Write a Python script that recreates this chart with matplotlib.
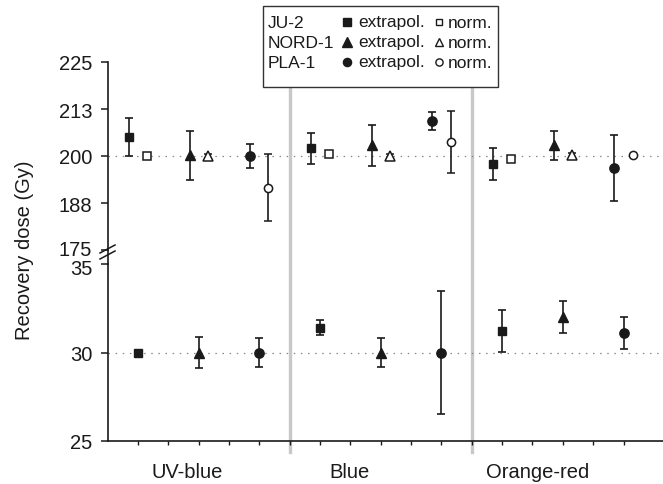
import matplotlib
matplotlib.use("Agg")
import matplotlib.pyplot as plt
from matplotlib.lines import Line2D
from matplotlib.patches import Rectangle
from matplotlib.transforms import blended_transform_factory, ScaledTranslation

plt.rcParams['font.family'] = ['Liberation Sans', 'DejaVu Sans']

categories = ['UV-blue', 'Blue', 'Orange-red']
samples = ['JU-2', 'NORD-1', 'PLA-1']

# 200 Gy given dose, per sample: values for UV-blue, Blue, Orange-red
ext_200 = {'JU-2': [205.0, 202.1, 197.9],
           'NORD-1': [200.2, 202.8, 202.8],
           'PLA-1': [200.0, 209.3, 196.8]}
ext_200_err = {'JU-2': [5.0, 4.1, 4.2],
               'NORD-1': [6.5, 5.5, 3.8],
               'PLA-1': [3.3, 2.4, 8.7]}
norm_200 = {'JU-2': [200.0, 200.4, 199.2],
            'NORD-1': [200.0, 199.9, 200.2],
            'PLA-1': [191.6, 203.7, 200.3]}
norm_200_err = {'JU-2': [0.5, 0.5, 0.6],
                'NORD-1': [0.6, 0.7, 0.7],
                'PLA-1': [9.0, 8.2, 0.0]}

# 30 Gy given dose, extrapolated only
ext_30 = {'JU-2': [30.0, 31.41, 31.22],
          'NORD-1': [30.0, 30.0, 32.01],
          'PLA-1': [30.0, 30.0, 31.09]}
ext_30_err = {'JU-2': [0.0, 0.4, 1.2],
              'NORD-1': [0.88, 0.8, 0.9],
              'PLA-1': [0.8, 3.5, 0.9]}

top_ticks = [175, 187.5, 200, 212.5, 225]
top_ticklabels = ['175', '188', '200', '213', '225']
bot_ticks = [25, 30, 35]

markers = {'JU-2': 's', 'NORD-1': '^', 'PLA-1': 'o'}
msize = {'JU-2': 6, 'NORD-1': 7.5, 'PLA-1': 6.7}
dark = '#1a1a1a'
fs = 14.5

W, H = 663, 485
fig = plt.figure(figsize=(W / 100, H / 100), dpi=100)
x0 = 107.6 / W
ax_top = fig.add_axes([x0, 1 - 251 / H, 1 - x0, (251 - 63) / H])
ax_bot = fig.add_axes([x0, 1 - 442 / H, 1 - x0, (442 - 265) / H])


def xpos(k, j):
    return 1 + 6 * k + 2 * j


eb = dict(ecolor=dark, elinewidth=1.2, capsize=3.2, capthick=1.2, linestyle='none')
for j, s in enumerate(samples):
    for k in range(len(categories)):
        x = xpos(k, j)
        ax_top.errorbar(x - 0.3, ext_200[s][k], yerr=ext_200_err[s][k],
                        marker=markers[s], ms=msize[s], mfc=dark, mec=dark,
                        zorder=3, **eb)
        ax_top.errorbar(x + 0.3, norm_200[s][k], yerr=norm_200_err[s][k],
                        marker=markers[s], ms=msize[s] - 0.8, mfc='white',
                        mec=dark, mew=1.1, zorder=3, **eb)
        ax_bot.errorbar(x, ext_30[s][k], yerr=ext_30_err[s][k],
                        marker=markers[s], ms=msize[s], mfc=dark, mec=dark,
                        zorder=3, **eb)

for ax in (ax_top, ax_bot):
    ax.set_xlim(0, 18.3)
    ax.patch.set_visible(False)
    ax.spines['top'].set_visible(False)
    ax.spines['right'].set_visible(False)
    ax.spines['left'].set_color(dark)
    ax.spines['left'].set_linewidth(1.2)
    ax.tick_params(axis='y', direction='out', length=5, width=1.1,
                   color=dark, labelsize=fs, labelcolor=dark, pad=6)

ax_top.axhline(200, color='#888888', lw=0.9, ls=(0, (1.2, 4.5)), zorder=1)
ax_bot.axhline(30, color='#888888', lw=0.9, ls=(0, (1.2, 4.5)), zorder=1)

ax_top.set_ylim(175, 225)
ax_top.set_yticks(top_ticks)
ax_top.set_yticklabels(top_ticklabels)
ax_top.spines['bottom'].set_visible(False)
ax_top.set_xticks([])

ax_bot.set_ylim(25, 35)
ax_bot.set_yticks(bot_ticks)
ax_bot.spines['bottom'].set_color(dark)
ax_bot.spines['bottom'].set_linewidth(1.2)
ax_bot.set_xticks(range(1, 18))
ax_bot.set_xticklabels([])
ax_bot.tick_params(axis='x', direction='out', length=3, width=1.0, color=dark)

# nudge the two labels at the axis break apart a little
fig.canvas.draw()
lab175 = ax_top.get_yticklabels()[0]
lab175.set_transform(lab175.get_transform() + ScaledTranslation(0, 2 / 100, fig.dpi_scale_trans))
lab35 = ax_bot.get_yticklabels()[-1]
lab35.set_transform(lab35.get_transform() + ScaledTranslation(0, -3 / 100, fig.dpi_scale_trans))

# category names under the axis
for name, xc in zip(categories, [2.61, 7.97, 14.16]):
    ax_bot.text(xc, -0.17, name, transform=blended_transform_factory(ax_bot.transData, ax_bot.transAxes),
                ha='center', va='center', fontsize=fs, color=dark)

# gray dividers between the filter groups
tr = blended_transform_factory(ax_bot.transData, fig.transFigure)
for xd in (6, 12):
    fig.add_artist(Line2D([xd, xd], [1 - 453 / H, 1 - 88 / H], transform=tr,
                          color='#c8c8c8', lw=2.4, zorder=-1))

# axis break: join the spines and draw the slashes
fig.add_artist(Line2D([x0, x0], [1 - 265 / H, 1 - 251 / H], color=dark, lw=1.2))
for yb in (254, 260):
    fig.add_artist(Line2D([100 / W, 115 / W], [1 - yb / H, 1 - (yb - 8) / H],
                          color=dark, lw=1.1))

fig.text(24 / W, 1 - 250 / H, 'Recovery dose (Gy)', rotation=90,
         ha='center', va='center', fontsize=fs, color=dark)

# legend box
fig.add_artist(Rectangle((263 / W, 1 - 88 / H), (498 - 263) / W, (88 - 7) / H,
                         transform=fig.transFigure, facecolor='white',
                         edgecolor='#333333', lw=1.0, zorder=5))
lfs = 12.5
for i, s in enumerate(samples):
    yy = 1 - (23 + 20 * i) / H
    fig.text(268 / W, yy, s, ha='left', va='center', fontsize=lfs, color=dark, zorder=6)
    fig.add_artist(Line2D([347 / W], [yy], marker=markers[s], ms=msize[s] - 0.8,
                          mfc=dark, mec=dark, ls='none', zorder=6))
    fig.text(358 / W, yy, 'extrapol.', ha='left', va='center', fontsize=lfs, color=dark, zorder=6)
    fig.add_artist(Line2D([439 / W], [yy], marker=markers[s], ms=msize[s] - 1.5,
                          mfc='white', mec=dark, mew=1.0, ls='none', zorder=6))
    fig.text(448 / W, yy, 'norm.', ha='left', va='center', fontsize=lfs, color=dark, zorder=6)

plt.savefig('out.png', dpi=100)
plt.close()
